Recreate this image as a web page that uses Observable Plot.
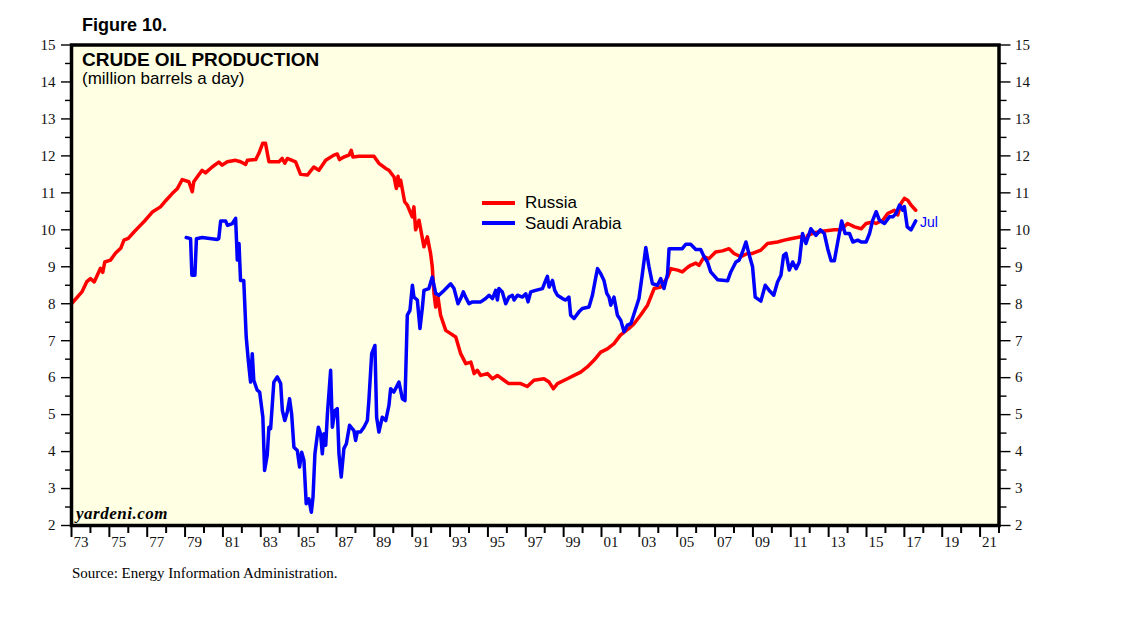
<!DOCTYPE html>
<html><head><meta charset="utf-8">
<script src="https://cdn.jsdelivr.net/npm/d3@7"></script>
<script src="https://cdn.jsdelivr.net/npm/@observablehq/plot@0.6"></script>
<style>
body{margin:0;background:#fff;}
#wrap{position:relative;width:1138px;height:621px;overflow:hidden;}
#chart{position:absolute;left:0;top:0;}
.t{position:absolute;white-space:nowrap;line-height:1;color:#000;}
.sans{font-family:'Liberation Sans',Arial,sans-serif;}
.serif{font-family:'Liberation Serif','Times New Roman',serif;}
.leg{position:absolute;height:4px;width:33px;}
</style></head><body>
<div id="wrap">
<div id="chart"></div>
<div class="t sans" style="left:82px;top:16px;font-size:18px;font-weight:bold;">Figure 10.</div>
<div class="t sans" style="left:82px;top:50px;font-size:19px;font-weight:bold;">CRUDE OIL PRODUCTION</div>
<div class="t sans" style="left:82px;top:70px;font-size:17px;">(million barrels a day)</div>
<div class="leg" style="left:482px;top:201px;background:#ff0000;"></div>
<div class="leg" style="left:482px;top:221px;background:#0000ff;"></div>
<div class="t sans" style="left:525px;top:194px;font-size:17px;">Russia</div>
<div class="t sans" style="left:525px;top:215px;font-size:17px;">Saudi Arabia</div>
<div class="t sans" style="left:920px;top:215px;font-size:14px;color:#0000ff;">Jul</div>
<div class="t serif" style="left:76px;top:505px;font-size:17px;font-weight:bold;font-style:italic;letter-spacing:0.5px;">yardeni.com</div>
<div class="t serif" style="left:72px;top:566px;font-size:15px;">Source: Energy Information Administration.</div>
</div>
<script>
// Russia crude oil production (year, million barrels a day)
const russia = [
[1973.0,8.0],[1973.55,8.32],[1973.8,8.59],[1974.0,8.68],[1974.2,8.59],[1974.53,8.96],[1974.65,8.85],[1974.76,9.13],
[1975.06,9.18],[1975.33,9.37],[1975.6,9.5],[1975.77,9.72],[1976.0,9.77],[1976.3,9.94],[1976.56,10.08],[1976.9,10.26],
[1977.27,10.48],[1977.7,10.62],[1978.0,10.8],[1978.32,10.98],[1978.6,11.12],[1978.85,11.36],[1979.2,11.3],[1979.38,11.03],
[1979.46,11.3],[1979.64,11.43],[1979.9,11.61],[1980.08,11.54],[1980.43,11.7],[1980.78,11.83],[1980.96,11.75],[1981.23,11.84],
[1981.67,11.88],[1981.93,11.84],[1982.2,11.77],[1982.29,11.88],[1982.73,11.9],[1982.9,12.07],[1983.1,12.34],[1983.25,12.34],
[1983.43,11.84],[1983.96,11.84],[1984.13,11.93],[1984.27,11.8],[1984.4,11.93],[1984.84,11.84],[1985.1,11.5],[1985.46,11.48],
[1985.8,11.7],[1986.07,11.61],[1986.43,11.88],[1986.86,12.02],[1987.04,12.05],[1987.16,11.9],[1987.39,11.97],[1987.66,12.02],
[1987.78,12.15],[1987.87,11.97],[1988.19,11.99],[1988.98,11.99],[1989.24,11.8],[1989.6,11.66],[1989.77,11.61],[1990.04,11.43],
[1990.16,11.12],[1990.25,11.45],[1990.32,11.2],[1990.39,11.34],[1990.6,10.76],[1990.74,10.67],[1991.0,10.35],[1991.09,10.62],
[1991.18,10.0],[1991.36,10.26],[1991.62,9.54],[1991.8,9.81],[1991.97,9.36],[1992.06,9.0],[1992.15,8.28],[1992.24,7.91],
[1992.36,8.18],[1992.5,7.69],[1992.77,7.28],[1993.03,7.19],[1993.3,7.1],[1993.56,6.65],[1993.83,6.38],[1994.1,6.42],
[1994.27,6.11],[1994.44,6.2],[1994.62,6.06],[1994.97,6.11],[1995.24,5.97],[1995.5,6.06],[1995.85,5.93],[1996.1,5.84],
[1996.73,5.84],[1997.08,5.76],[1997.43,5.93],[1997.96,5.97],[1998.23,5.88],[1998.46,5.7],[1998.67,5.84],[1999.2,5.97],
[1999.55,6.06],[1999.9,6.15],[2000.25,6.29],[2000.6,6.47],[2000.96,6.69],[2001.31,6.78],[2001.66,6.92],[2002.0,7.15],
[2002.45,7.33],[2002.72,7.46],[2003.06,7.69],[2003.43,7.96],[2003.78,8.41],[2004.13,8.45],[2004.49,8.72],[2004.66,8.95],
[2005.02,8.91],[2005.27,8.86],[2005.54,8.98],[2005.71,9.04],[2005.98,9.1],[2006.15,9.04],[2006.42,9.27],[2006.68,9.22],
[2007.03,9.4],[2007.39,9.43],[2007.74,9.49],[2008.0,9.36],[2008.36,9.27],[2008.71,9.36],[2008.98,9.36],[2009.42,9.45],
[2009.77,9.63],[2010.3,9.67],[2010.66,9.72],[2011.0,9.76],[2011.53,9.81],[2011.8,9.7],[2011.89,9.85],[2012.24,9.92],
[2012.77,9.97],[2013.3,10.0],[2013.65,10.0],[2014.0,10.17],[2014.37,10.08],[2014.72,10.03],[2014.98,10.17],[2015.33,10.21],
[2015.5,10.17],[2015.86,10.26],[2016.12,10.44],[2016.47,10.53],[2016.65,10.4],[2016.82,10.71],[2017.0,10.85],[2017.18,10.8],
[2017.35,10.67],[2017.6,10.53]
];
// Saudi Arabia crude oil production (year, million barrels a day)
const saudi = [
[1979.06,9.79],[1979.29,9.76],[1979.36,8.77],[1979.52,8.77],[1979.6,9.76],[1979.9,9.79],[1980.7,9.74],[1980.78,9.76],
[1980.88,10.24],[1981.14,10.24],[1981.24,10.12],[1981.5,10.17],[1981.67,10.31],[1981.76,9.18],[1981.85,9.63],[1981.93,8.63],
[1982.1,8.63],[1982.23,7.1],[1982.34,6.47],[1982.46,5.88],[1982.55,6.65],[1982.63,5.93],[1982.81,5.66],[1982.94,5.61],
[1983.11,4.93],[1983.2,3.49],[1983.34,3.9],[1983.43,4.66],[1983.52,4.62],[1983.69,5.88],[1983.87,6.02],[1984.05,5.84],
[1984.14,5.11],[1984.27,4.84],[1984.4,5.07],[1984.52,5.43],[1984.63,5.02],[1984.75,4.12],[1984.93,4.03],[1985.05,3.58],
[1985.16,3.98],[1985.28,3.76],[1985.4,2.59],[1985.54,2.72],[1985.67,2.36],[1985.76,2.77],[1985.86,3.94],[1986.04,4.66],
[1986.16,4.48],[1986.25,3.94],[1986.34,4.48],[1986.43,4.17],[1986.52,5.02],[1986.69,6.2],[1986.78,4.66],[1986.92,5.11],
[1987.04,5.16],[1987.13,3.94],[1987.25,3.31],[1987.39,4.08],[1987.52,4.21],[1987.69,4.71],[1987.92,4.57],[1988.01,4.3],
[1988.1,4.53],[1988.27,4.53],[1988.45,4.66],[1988.63,4.84],[1988.71,5.38],[1988.86,6.65],[1989.03,6.87],[1989.12,4.93],
[1989.24,4.53],[1989.42,4.93],[1989.6,4.84],[1989.77,5.25],[1989.86,5.7],[1990.03,5.61],[1990.3,5.88],[1990.48,5.43],
[1990.62,5.38],[1990.74,7.69],[1990.88,7.82],[1991.01,8.5],[1991.09,8.18],[1991.27,8.1],[1991.41,7.33],[1991.54,7.91],
[1991.62,8.36],[1991.88,8.41],[1992.06,8.72],[1992.24,8.28],[1992.41,8.23],[1992.68,8.36],[1993.03,8.54],[1993.21,8.41],
[1993.42,8.0],[1993.56,8.14],[1993.7,8.32],[1993.82,8.18],[1994.0,8.0],[1994.18,8.05],[1994.62,8.05],[1994.88,8.14],
[1995.06,8.23],[1995.24,8.14],[1995.41,8.36],[1995.5,8.1],[1995.58,8.41],[1995.76,8.32],[1995.94,8.0],[1996.11,8.18],
[1996.29,8.23],[1996.38,8.1],[1996.56,8.23],[1996.82,8.18],[1997.0,8.27],[1997.12,8.05],[1997.26,8.32],[1997.52,8.36],
[1997.88,8.41],[1998.05,8.63],[1998.14,8.74],[1998.23,8.45],[1998.41,8.63],[1998.53,8.36],[1998.67,8.23],[1998.94,8.14],
[1999.11,8.1],[1999.28,8.18],[1999.37,7.69],[1999.55,7.6],[1999.81,7.78],[1999.99,7.87],[2000.34,7.91],[2000.52,8.23],
[2000.7,8.72],[2000.79,8.95],[2000.96,8.81],[2001.13,8.63],[2001.28,8.28],[2001.4,8.18],[2001.49,7.96],[2001.66,8.18],
[2001.84,7.69],[2002.02,7.55],[2002.19,7.24],[2002.37,7.42],[2002.55,7.46],[2002.81,7.87],[2002.98,8.14],[2003.16,8.81],
[2003.34,9.52],[2003.51,9.0],[2003.69,8.54],[2003.96,8.5],[2004.13,8.68],[2004.3,8.41],[2004.49,8.81],[2004.57,9.49],
[2005.27,9.49],[2005.45,9.61],[2005.71,9.61],[2005.98,9.47],[2006.24,9.47],[2006.42,9.27],[2006.6,9.13],[2006.77,8.86],
[2007.13,8.65],[2007.66,8.62],[2007.83,8.86],[2008.1,9.13],[2008.27,9.18],[2008.45,9.4],[2008.63,9.67],[2008.81,9.31],
[2008.98,9.0],[2009.12,8.18],[2009.42,8.07],[2009.65,8.5],[2009.86,8.36],[2010.1,8.23],[2010.3,8.59],[2010.48,8.77],
[2010.62,9.31],[2010.75,9.36],[2010.92,8.91],[2011.1,9.13],[2011.28,8.95],[2011.45,9.13],[2011.62,9.9],[2011.8,9.63],
[2012.06,10.03],[2012.33,9.85],[2012.56,10.0],[2012.77,9.9],[2012.95,9.49],[2013.13,9.16],[2013.3,9.16],[2013.48,9.67],
[2013.69,10.24],[2013.87,9.9],[2014.1,9.9],[2014.28,9.67],[2014.54,9.72],[2014.72,9.67],[2014.98,9.67],[2015.16,9.9],
[2015.33,10.26],[2015.51,10.49],[2015.68,10.26],[2015.95,10.17],[2016.21,10.35],[2016.39,10.35],[2016.56,10.44],[2016.74,10.67],
[2016.92,10.53],[2017.0,10.63],[2017.15,10.08],[2017.35,10.0],[2017.6,10.24]
];
const yTicks = d3.range(2, 16);            // 2 ... 15
const yMinor = d3.range(2.5, 15, 1);       // half steps
const oddYears = d3.range(1973, 2022, 2);  // labelled years
const evenYears = d3.range(1974, 2023, 2);
const yearLabel = y => String(Math.floor(y) % 100).padStart(2, "0");

const serif = "'Liberation Serif','Times New Roman',serif";
const chart = Plot.plot({
  width: 1138, height: 621,
  marginLeft: 71, marginRight: 139.5, marginTop: 44.5, marginBottom: 96,
  style: {fontFamily: serif, fontSize: "15px", background: "transparent", overflow: "visible"},
  x: {domain: [1973, 2022], axis: null},
  y: {domain: [2, 15], axis: null},
  marks: [
    Plot.frame({fill: "#ffffe3", stroke: null}),
    Plot.line(russia, {x: d => d[0], y: d => d[1], stroke: "#ff0000", strokeWidth: 3.5, strokeLinejoin: "round"}),
    Plot.line(saudi, {x: d => d[0], y: d => d[1], stroke: "#0000ff", strokeWidth: 3.5, strokeLinejoin: "round"}),
    Plot.axisY(yTicks, {anchor: "left", tickSize: 10, tickPadding: 6, fontSize: 15, fill: "#111", strokeWidth: 1.4}),
    Plot.axisY(yMinor, {anchor: "left", tickSize: 6, text: null, strokeWidth: 1.4}),
    Plot.axisY(yTicks, {anchor: "right", tickSize: 11, tickPadding: 5, fontSize: 15, fill: "#111", strokeWidth: 1.4}),
    Plot.axisY(yMinor, {anchor: "right", tickSize: 7, text: null, strokeWidth: 1.4}),
    Plot.axisX(oddYears, {anchor: "bottom", tickSize: 12, text: null, strokeWidth: 2}),
    Plot.axisX(evenYears, {anchor: "bottom", tickSize: 8, text: null, strokeWidth: 2}),
    Plot.axisX(oddYears.map(y => y + 0.5), {anchor: "bottom", tickSize: 0, tickPadding: 11, fontSize: 15, fill: "#111", tickFormat: yearLabel}),
    Plot.frame({stroke: "#000", strokeWidth: 3.5})
  ]
});
document.getElementById("chart").appendChild(chart);
</script>
</body></html>
